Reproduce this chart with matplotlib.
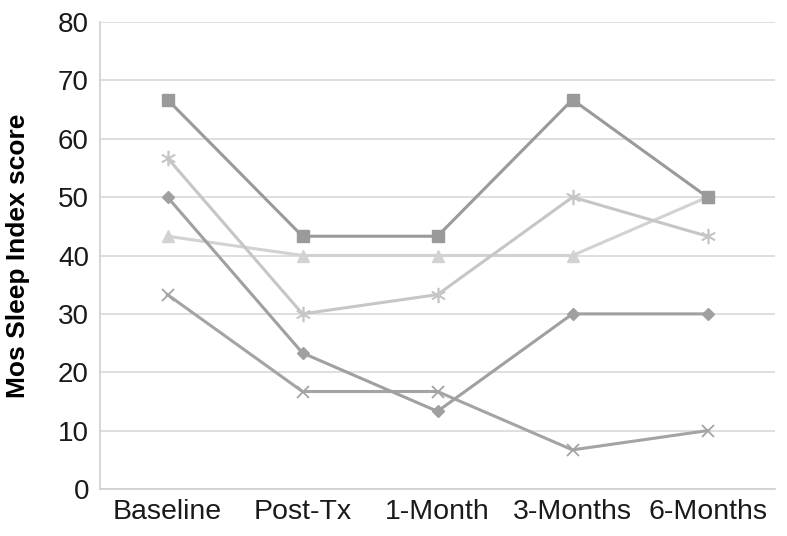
import numpy as np
import matplotlib.pyplot as plt

plt.rcParams['font.family'] = ['Liberation Sans', 'DejaVu Sans']

# categories and series
timepoints = ['Baseline', 'Post-Tx', '1-Month', '3-Months', '6-Months']
square_vals = [66.7, 43.3, 43.3, 66.7, 50.0]
star_vals = [56.7, 30.0, 33.3, 50.0, 43.3]
diamond_vals = [50.0, 23.3, 13.3, 30.0, 30.0]
triangle_vals = [43.3, 40.0, 40.0, 40.0, 50.0]
cross_vals = [33.3, 16.7, 16.7, 6.7, 10.0]

fig = plt.figure(figsize=(7.87, 5.36), dpi=100)
ax = fig.add_axes([100/787, 47/536, 675/787, 467/536])

x = np.arange(len(timepoints))

ax.plot(x, cross_vals, color='#a4a4a4', lw=2.2, marker='x', ms=9, mew=1.3, zorder=3)
ax.plot(x, triangle_vals, color='#d2d2d2', lw=2.2, marker='^', ms=8, zorder=3)
ax.plot(x, diamond_vals, color='#a0a0a0', lw=2.2, marker='D', ms=6, zorder=4)
ax.plot(x, star_vals, color='#c6c6c6', lw=2.2, marker=(6, 2, 0), ms=11, mew=1.2, zorder=4)
ax.plot(x, square_vals, color='#9a9a9a', lw=2.2, marker='s', ms=9, zorder=5)

ax.set_xlim(-0.5, 4.5)
ax.set_ylim(0, 80)
ax.set_yticks(np.arange(0, 81, 10))
ax.set_xticks(x)
ax.set_xticklabels(timepoints)
ax.tick_params(axis='both', length=0, colors='#1a1a1a')
ax.tick_params(axis='y', pad=8, labelsize=20)
ax.tick_params(axis='x', pad=7, labelsize=20.5)

ax.yaxis.grid(True, color='#d9d9d9', lw=1.2)
ax.set_axisbelow(True)
for side in ['top', 'right']:
    ax.spines[side].set_visible(False)
ax.spines['left'].set_color('#d0d0d0')
ax.spines['bottom'].set_color('#d0d0d0')
ax.spines['left'].set_linewidth(1.2)
ax.spines['bottom'].set_linewidth(1.2)

ax.set_ylabel('Mos Sleep Index score', fontsize=19, fontweight='bold')
ax.yaxis.set_label_coords(-70/675, 0.5)

plt.savefig('out.png', dpi=100)
